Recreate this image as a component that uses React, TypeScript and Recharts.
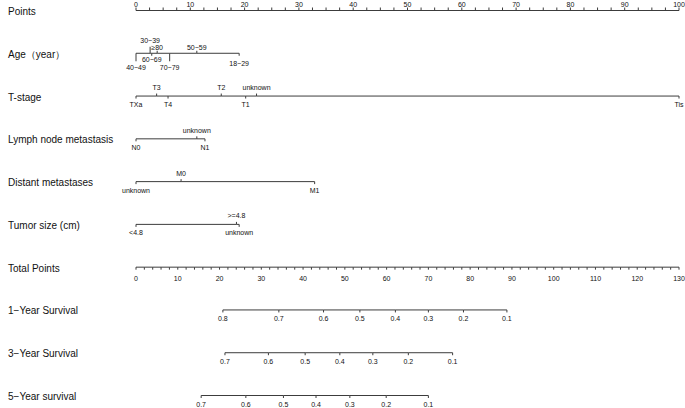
import { Scatter, ScatterChart, XAxis, YAxis } from 'recharts'

const ROWS = [
  'Points',
  'Age（year）',
  'T-stage',
  'Lymph node metastasis',
  'Distant metastases',
  'Tumor size (cm)',
  'Total Points',
  '1−Year Survival',
  '3−Year Survival',
  '5−Year survival',
]

const POINT_TICKS = Array.from({ length: 41 }, (_, i) => i * 2.5)
const TOTAL_TICKS = Array.from({ length: 66 }, (_, i) => i * 2)

// predictor scores, in Points
const AGE_LABELS = ['40−49', '30−39', '60−69', '≥80', '70−79', '50−59', '18−29']
const AGE_POINTS = [0, 2.6, 2.9, 3.9, 6.2, 11.2, 19.0]
const T_LABELS = ['TXa', 'T3', 'T4', 'T2', 'T1', 'unknown', 'Tis']
const T_POINTS = [0, 3.8, 5.9, 15.7, 20.2, 22.2, 100]
const N_LABELS = ['N0', 'unknown', 'N1']
const N_POINTS = [0, 11.2, 12.7]
const M_LABELS = ['unknown', 'M0', 'M1']
const M_POINTS = [0, 8.3, 32.9]
const SIZE_LABELS = ['<4.8', '>=4.8', 'unknown']
const SIZE_POINTS = [0, 18.5, 19.0]

// survival probabilities and where they sit on the Total Points scale
const SURV_1Y = [0.8, 0.7, 0.6, 0.5, 0.4, 0.3, 0.2, 0.1]
const SURV_1Y_TOTAL = [20.8, 34.2, 44.9, 53.6, 62.1, 70.0, 78.4, 88.8]
const SURV_3Y = [0.7, 0.6, 0.5, 0.4, 0.3, 0.2, 0.1]
const SURV_3Y_TOTAL = [21.3, 31.7, 40.5, 48.8, 56.7, 65.2, 75.8]
const SURV_5Y = [0.7, 0.6, 0.5, 0.4, 0.3, 0.2, 0.1]
const SURV_5Y_TOTAL = [15.6, 26.3, 35.3, 43.1, 51.2, 59.9, 70.0]

// label placement (px above < 0 < below) for each level
const AGE_DY = [14, -12.5, 6.5, -5.5, 14, -6, 10]
const T_DY = [8.5, -8.5, 8.5, -8.5, 8.5, -8.5, 8.5]
const NM_DY = [8.5, -8.5, 8.5]

const LINE = '#3c3c3c'
const TEXT = '#111'
const FONT = '"Liberation Sans", Arial, sans-serif'

interface Mark {
  x: number
  y: number
  label: string
  dy: number
}

function buildRow(row: number, xs: number[], labels: (string | number)[], dys: number[]): Mark[] {
  return xs
    .map((x, i) => ({ x, y: row, label: String(labels[i]), dy: dys[i] }))
    .sort((a, b) => a.x - b.x)
}

const totalRow = buildRow(
  6,
  TOTAL_TICKS,
  TOTAL_TICKS.map((v) => (v % 10 === 0 ? v : '')),
  TOTAL_TICKS.map(() => 11.5),
)

const survDy = (n: number) => Array.from({ length: n }, () => 8.8)

function TickMark(props: any) {
  const { cx, cy, payload } = props
  if (cx == null || cy == null) return null
  const { label, dy } = payload as Mark
  const dir = dy < 0 ? -1 : 1
  const len = Math.abs(dy) > 11 && Math.abs(dy) !== 11.5 ? Math.abs(dy) - 6 : 2.5
  return (
    <g>
      <line x1={cx} x2={cx} y1={cy} y2={cy + dir * len} stroke={LINE} strokeWidth={1} />
      {label ? (
        <text
          x={cx}
          y={cy + dy}
          textAnchor="middle"
          dominantBaseline="central"
          fontSize={7}
          fontFamily={FONT}
          fill={TEXT}
        >
          {label}
        </text>
      ) : null}
    </g>
  )
}

function RowLabel(props: any) {
  const { y, payload } = props
  return (
    <text x={8} y={y + 1} dominantBaseline="central" fontSize={10} fontFamily={FONT} fill={TEXT}>
      {ROWS[payload.value]}
    </text>
  )
}

const series: { id: string; data: Mark[] }[] = [
  { id: 'pts', data: buildRow(1, AGE_POINTS, AGE_LABELS, AGE_DY) },
  { id: 'pts', data: buildRow(2, T_POINTS, T_LABELS, T_DY) },
  { id: 'pts', data: buildRow(3, N_POINTS, N_LABELS, NM_DY) },
  { id: 'pts', data: buildRow(4, M_POINTS, M_LABELS, NM_DY) },
  { id: 'pts', data: buildRow(5, SIZE_POINTS, SIZE_LABELS, NM_DY) },
  { id: 'tp', data: totalRow },
  { id: 'tp', data: buildRow(7, SURV_1Y_TOTAL, SURV_1Y, survDy(SURV_1Y.length)) },
  { id: 'tp', data: buildRow(8, SURV_3Y_TOTAL, SURV_3Y, survDy(SURV_3Y.length)) },
  { id: 'tp', data: buildRow(9, SURV_5Y_TOTAL, SURV_5Y, survDy(SURV_5Y.length)) },
]

export default function App() {
  return (
    <div
      style={{
        position: 'absolute',
        left: 0,
        top: 0,
        width: 685,
        height: 408,
        background: '#fff',
        fontFamily: FONT,
      }}
    >
      <ScatterChart
        width={685}
        height={408}
        margin={{ top: 0.5, right: 6, bottom: 12.5, left: 0 }}
      >
        <XAxis
          xAxisId="pts"
          dataKey="x"
          type="number"
          orientation="top"
          domain={[0, 100]}
          ticks={POINT_TICKS}
          interval={0}
          height={10}
          tickSize={3}
          tickMargin={1}
          tickFormatter={(v: number) => (v % 10 === 0 ? String(v) : '')}
          tick={{ fontSize: 7, fill: TEXT, fontFamily: FONT }}
          axisLine={{ stroke: LINE }}
          tickLine={{ stroke: LINE }}
        />
        <XAxis xAxisId="tp" dataKey="x" type="number" domain={[0, 130]} hide />
        <YAxis
          dataKey="y"
          type="number"
          domain={[0, 9]}
          reversed
          ticks={ROWS.map((_, i) => i)}
          interval={0}
          width={136}
          axisLine={false}
          tickLine={false}
          tick={(p: any) => <RowLabel {...p} />}
        />
        {series.map((s, i) => (
          <Scatter
            key={i}
            xAxisId={s.id}
            data={s.data}
            line={{ stroke: LINE, strokeWidth: 1 }}
            shape={TickMark}
            isAnimationActive={false}
          />
        ))}
      </ScatterChart>
    </div>
  )
}
